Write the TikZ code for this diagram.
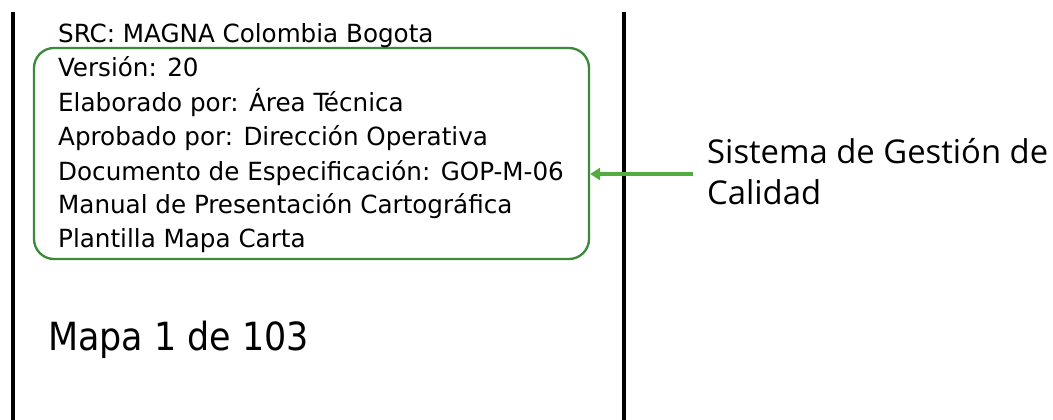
\documentclass[tikz,border=0pt]{standalone}
\usepackage{fontspec}
\usetikzlibrary{arrows.meta}
\newfontfamily\boxfont[FakeStretch=1.095]{DejaVu Sans Condensed}
\newfontfamily\bigfont{DejaVu Sans Condensed}
\newfontfamily\sidefont{Open Sans}
\definecolor{boxgreen}{RGB}{58,138,58}
\definecolor{arrgreen}{RGB}{82,172,62}
\tikzset{
  infotext/.style={anchor=base west, inner sep=0pt, font=\boxfont\fontsize{25}{30}\selectfont, text=black},
  bigtext/.style={anchor=base west, inner sep=0pt, font=\bigfont\fontsize{38.8}{44}\selectfont, text=black},
  sidetext/.style={anchor=base west, inner sep=0pt, font=\sidefont\fontsize{32.8}{41}\selectfont, text=black, align=left},
  frameline/.style={line width=3.3pt, black},
  greenbox/.style={draw=boxgreen, line width=2.3pt, rounded corners=20pt, minimum width=555pt, minimum height=211pt, inner sep=0pt},
  greenarrow/.style={draw=arrgreen, line width=3.4pt, -{Triangle[length=10pt,width=12pt]}}
}
\begin{document}
\begin{tikzpicture}[x=1pt,y=-1pt]
\useasboundingbox (0,0) rectangle (1053,420);
\coordinate (ltop) at (13,12);
\coordinate (lbot) at (13,420);
\coordinate (rtop) at (624,12);
\coordinate (rbot) at (624,420);
\draw[frameline] (ltop) -- (lbot);
\draw[frameline] (rtop) -- (rbot);
\node[greenbox] (box) at (311.5,153.5) {};
\node[infotext] (t0) at (58,43) {SRC: MAGNA Colombia Bogota};
\node[infotext] (t1) at (58,77) {Versión: 20};
\node[infotext] (t2) at (58,111) {Elaborado por: Área Técnica};
\node[infotext] (t3) at (58,145) {Aprobado por: Dirección Operativa};
\node[infotext] (t4) at (58,180) {Documento de Especificación: GOP-M-06};
\node[infotext] (t5) at (58,213) {Manual de Presentación Cartográfica};
\node[infotext] (t6) at (58,247) {Plantilla Mapa Carta};
\node[bigtext] (mapa) at (48,350) {Mapa 1 de 103};
\node[sidetext] (side1) at (707,163) {Sistema de Gestión de};
\node[sidetext] (side2) at (707,204) {Calidad};
\coordinate (astart) at (693,174);
\draw[greenarrow] (astart) -- (box.east |- astart);
\end{tikzpicture}
\end{document}
